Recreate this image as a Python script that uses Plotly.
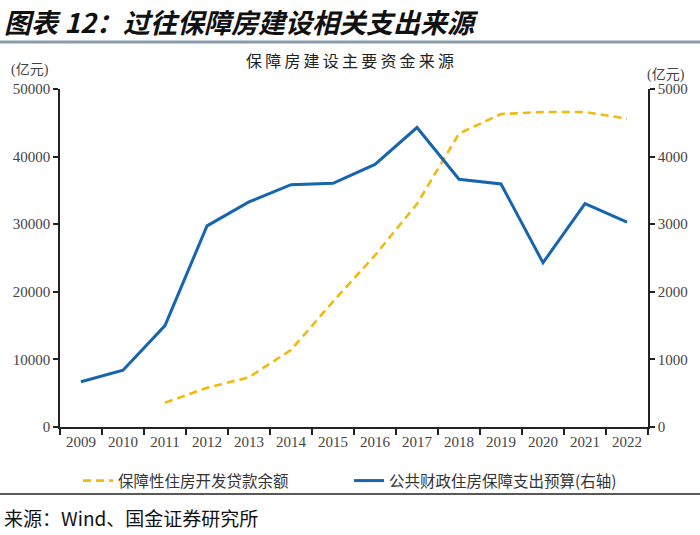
import plotly.graph_objects as go

years = [str(y) for y in range(2009, 2023)]
loan_balance = [None, None, 3590, 5800, 7360, 11400, 18550, 25400, 33000, 43400, 46300, 46600, 46600, 45600]
budget_spend = [670, 840, 1500, 2975, 3330, 3585, 3605, 3885, 4430, 3665, 3595, 2430, 3305, 3030]

name_loan = "保障性住房开发贷款余额"
name_budget = "公共财政住房保障支出预算(右轴)"
left_ticks = [0, 10000, 20000, 30000, 40000, 50000]
right_ticks = [0, 1000, 2000, 3000, 4000, 5000]

SERIF = "'Liberation Serif', 'Times New Roman', 'Noto Sans CJK SC', serif"
CJK = "'Noto Sans CJK SC', sans-serif"

L, R, T, B = 60, 52, 89, 108
W, H = 700, 535
PW, PH = W - L - R, H - T - B


def px(x):
    return (x - L) / PW


def py(y):
    return (H - B - y) / PH


fig = go.Figure()
fig.add_trace(go.Scatter(
    x=years, y=loan_balance, name=name_loan, mode="lines",
    line=dict(color="#F2B90F", width=2.6, dash="8px,5px"),
    connectgaps=False, yaxis="y"))
fig.add_trace(go.Scatter(
    x=years, y=budget_spend, name=name_budget, mode="lines",
    line=dict(color="#1765AE", width=3), yaxis="y2"))

axis_common = dict(showgrid=False, zeroline=False, showline=True, linecolor="#222",
                   linewidth=1.5, ticks="outside", tickwidth=1.5, tickcolor="#222",
                   automargin=False,
                   tickfont=dict(family=SERIF, size=15, color="#444"))

fig.update_layout(
    width=W, height=H, margin=dict(l=L, r=R, t=T, b=B, autoexpand=False),
    paper_bgcolor="white", plot_bgcolor="white",
    showlegend=True,
    legend=dict(orientation="h", x=px(78), xanchor="left", y=py(481), yanchor="middle",
                font=dict(family=CJK, size=15.5, color="#333"),
                entrywidth=226, entrywidthmode="pixels",
                bgcolor="rgba(0,0,0,0)"),
    xaxis=dict(type="category", tickson="boundaries", range=[-0.5, 13.5], ticklen=6, **axis_common),
    yaxis=dict(range=[0, 50000], tickvals=left_ticks, ticktext=[str(v) for v in left_ticks],
               side="left", ticklen=5, **axis_common),
    yaxis2=dict(range=[0, 5000], tickvals=right_ticks, ticktext=[str(v) for v in right_ticks],
                side="right", overlaying="y", ticklen=5, **axis_common),
)

# title
fig.add_annotation(xref="paper", yref="paper", x=px(2), y=py(21), xanchor="left", yanchor="middle",
                   text="<b><i>图表 12：过往保障房建设相关支出来源</i></b>", showarrow=False,
                   font=dict(family=CJK, size=27, color="#111"))
fig.add_shape(type="line", xref="paper", yref="paper", x0=px(0), x1=px(700), y0=py(42), y1=py(42),
              line=dict(color="#8A9BAA", width=3))
# subtitle
fig.add_annotation(xref="paper", yref="paper", x=px(350), y=py(60), xanchor="center", yanchor="middle",
                   text="\u2009".join("保障房建设主要资金来源"), showarrow=False,
                   font=dict(family=CJK, size=16, color="#222"))
# unit labels
fig.add_annotation(xref="paper", yref="paper", x=px(30), y=py(70), xanchor="center", yanchor="middle",
                   text="(亿元)", showarrow=False, font=dict(family=SERIF, size=14, color="#444"))
fig.add_annotation(xref="paper", yref="paper", x=px(666), y=py(75), xanchor="center", yanchor="middle",
                   text="(亿元)", showarrow=False, font=dict(family=SERIF, size=14, color="#444"))
# separator + source
fig.add_shape(type="line", xref="paper", yref="paper", x0=px(0), x1=px(700), y0=py(494), y1=py(494),
              line=dict(color="#222", width=1.5))
fig.add_annotation(xref="paper", yref="paper", x=px(2), y=py(517), xanchor="left", yanchor="middle",
                   text="来源：Wind、国金证券研究所", showarrow=False,
                   font=dict(family=CJK, size=19, color="#111"))

fig.write_html("out.html", config={"displayModeBar": False},
               post_script="document.body.style.margin='0';document.body.style.overflow='hidden';")
